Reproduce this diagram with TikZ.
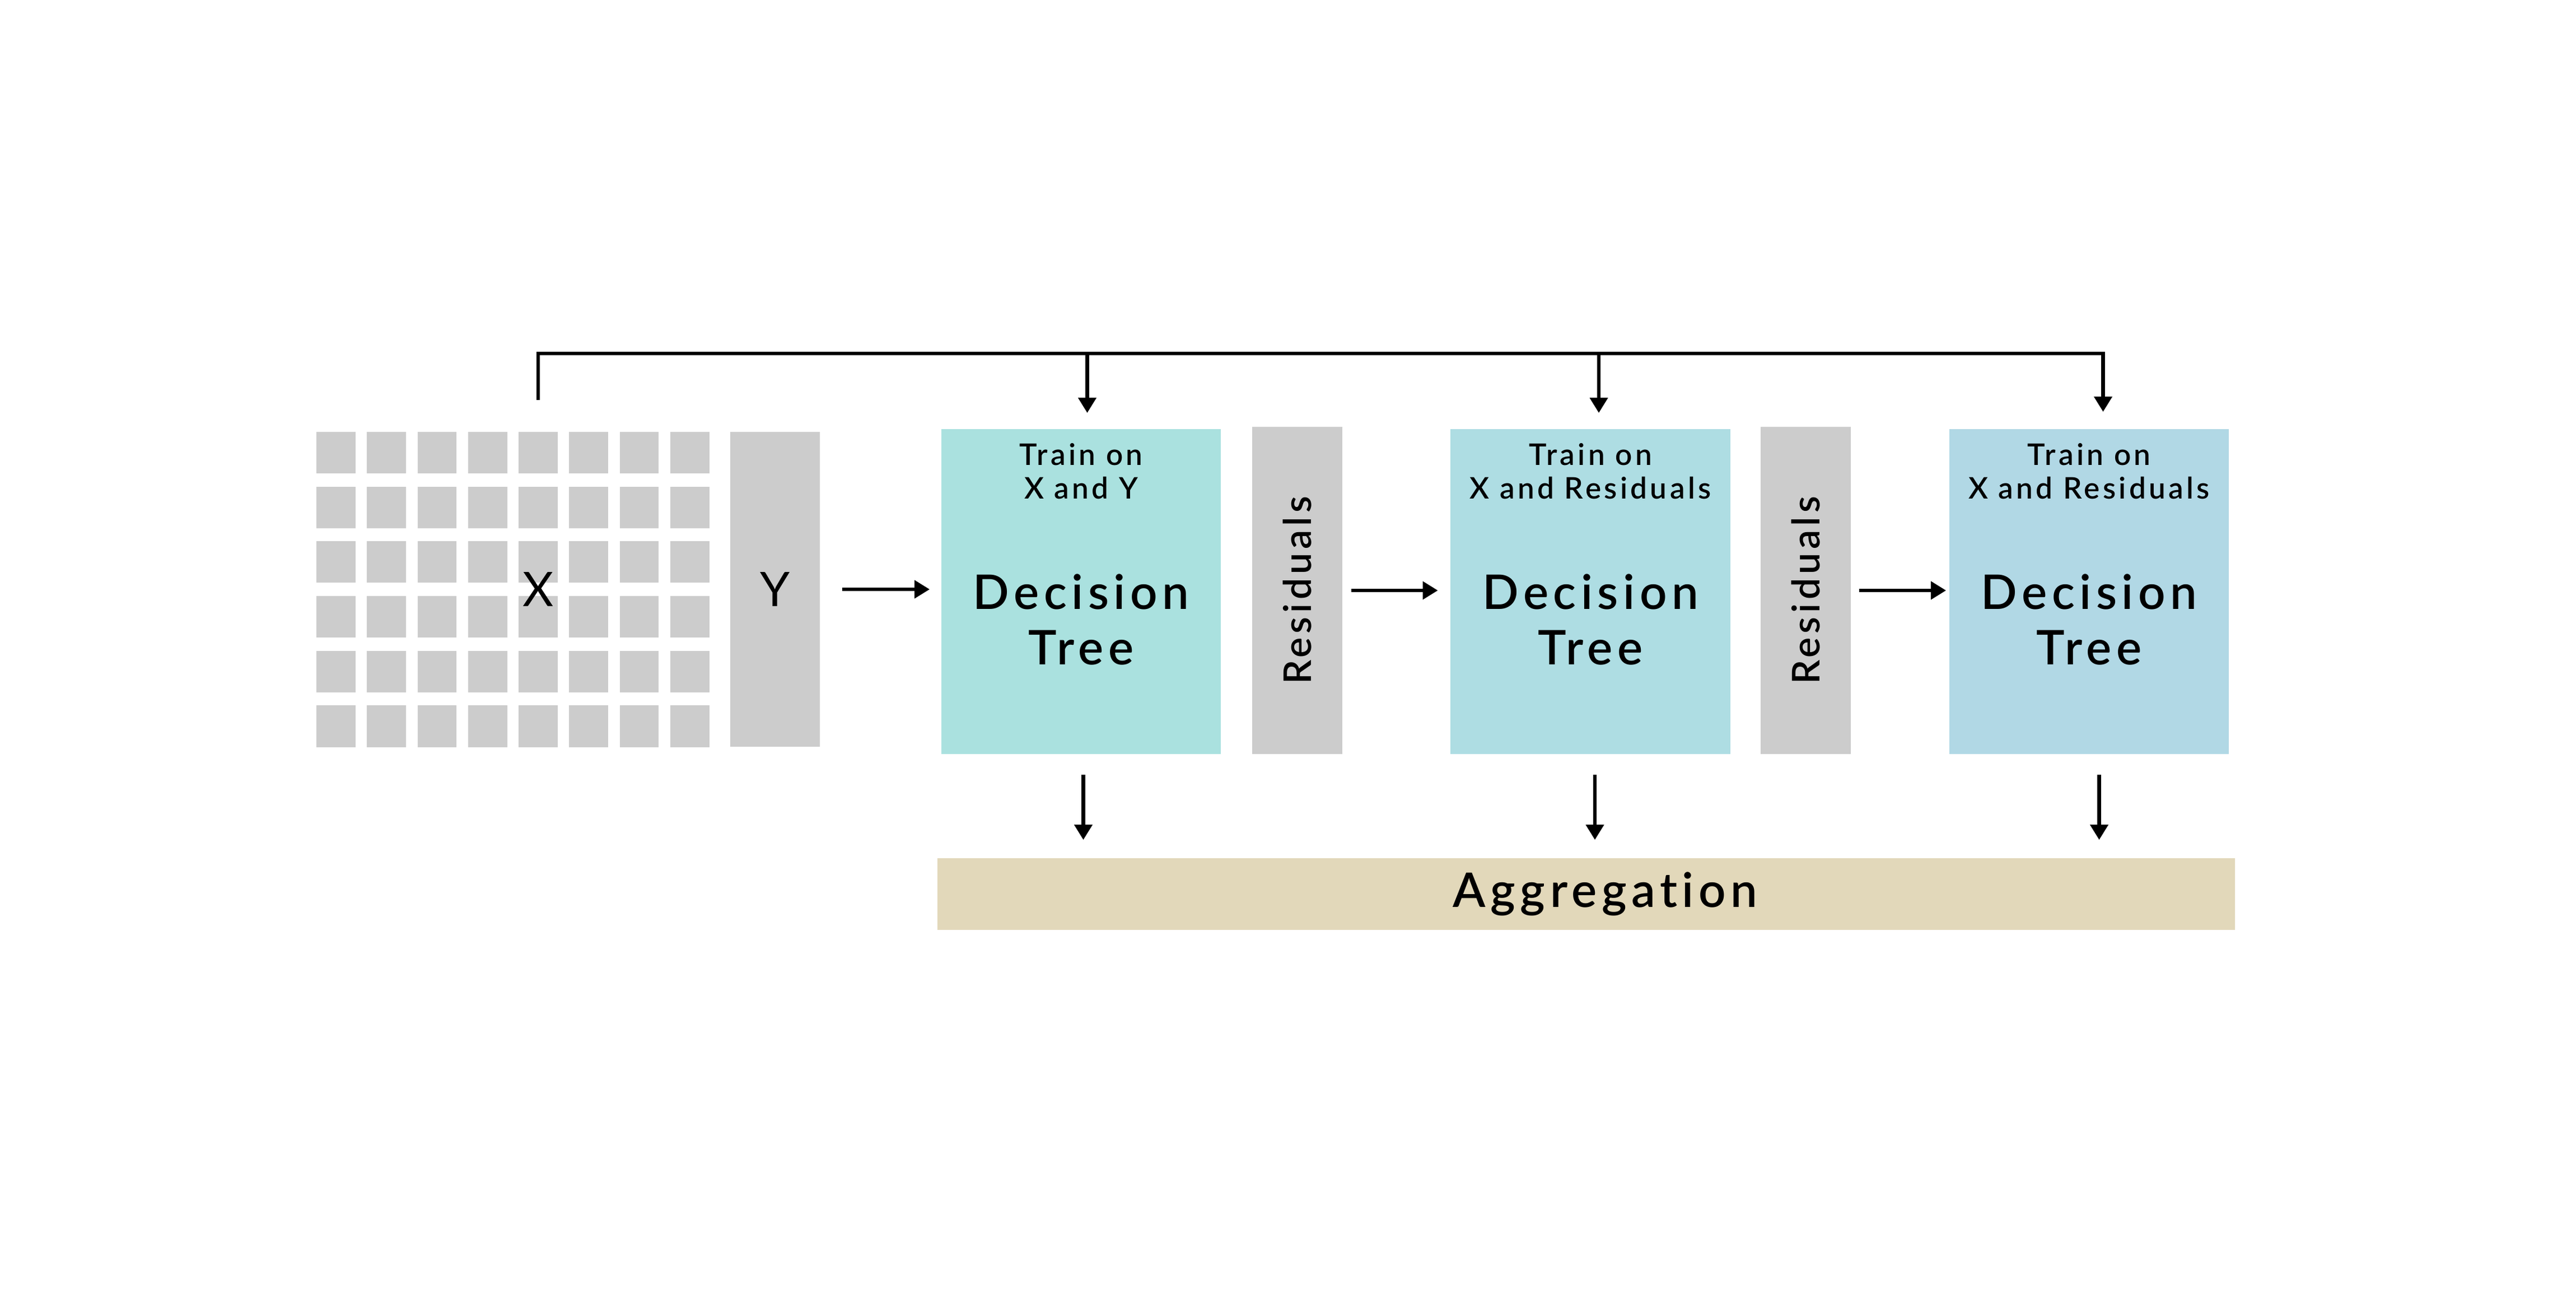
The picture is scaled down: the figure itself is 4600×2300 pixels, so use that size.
\documentclass[tikz,border=0pt]{standalone}
\usepackage{fontspec}
\setmainfont{Lato}
\IfFontExistsTF{Lato Semibold}{\newfontfamily\semi{Lato Semibold}}{\newfontfamily\semi{Lato}[FakeBold=1.5]}
\usepackage{xcolor}
\usetikzlibrary{positioning,arrows.meta,calc}
\definecolor{cellgray}{HTML}{CCCCCC}
\definecolor{treeA}{HTML}{AAE1DF}
\definecolor{treeB}{HTML}{AEDDE3}
\definecolor{treeC}{HTML}{B1D8E5}
\definecolor{aggtan}{HTML}{E2D8BA}
\newcommand{\bigtxt}{\semi\fontsize{24.2}{28.2}\selectfont\addfontfeature{LetterSpace=10,Ligatures=NoCommon}}
\newcommand{\smalltxt}{\semi\fontsize{15.1}{17}\selectfont\addfontfeature{LetterSpace=10,Ligatures=NoCommon}}
\newcommand{\restxt}{\semi\fontsize{19.4}{20}\selectfont\addfontfeature{LetterSpace=10,Ligatures=NoCommon}}

\begin{document}
\begin{tikzpicture}[x=0.01cm,y=-0.01cm,
  arr/.style={->,>={Triangle[length=0.27cm,width=0.31cm]},line width=1.9pt},
  cell/.style={fill=cellgray,minimum width=0.696cm,minimum height=0.74cm,inner sep=0pt},
  tree/.style={minimum width=4.99cm,minimum height=5.8cm,inner sep=0pt},
  resbox/.style={fill=cellgray,minimum width=1.61cm,minimum height=5.84cm,inner sep=0pt},
  toptxt/.style={align=center,font=\smalltxt,inner sep=0pt},
  dtxt/.style={align=center,font=\bigtxt,inner sep=0pt}]
\useasboundingbox (0,0) rectangle (4600,2300);

% X grid and Y column
\foreach \i in {0,...,7}
  \foreach \j in {0,...,5}
    \node[cell] (c-\i-\j) at ({599.8+90.3*\i},{808+97.7*\j}) {};
\node[fill=cellgray,minimum width=1.6cm,minimum height=5.62cm,inner sep=0pt] (ycol) at (1384,1052) {};
\node[font=\fontsize{24.2}{28.2}\selectfont] (xlab) at (c-4-0 |- ycol) {X};
\node[font=\fontsize{24.2}{28.2}\selectfont] (ylab) at (ycol) {Y};

% trees and residuals
\node[tree,fill=treeA] (tree1) at (1930.5,1056) {};
\node[resbox] (res1) at (2316.5,1054) {};
\node[tree,fill=treeB] (tree2) at (2840,1056) {};
\node[resbox] (res2) at (3224.5,1054) {};
\node[tree,fill=treeC] (tree3) at (3730.5,1056) {};
\node[rotate=90,font=\restxt] at (res1) {Residuals};
\node[rotate=90,font=\restxt] at (res2) {Residuals};

\node[toptxt] at ($(tree1.north)+(0,76)$) {Train on\\X and Y};
\node[toptxt] at ($(tree2.north)+(0,76)$) {Train on\\X and Residuals};
\node[toptxt] at ($(tree3.north)+(0,76)$) {Train on\\X and Residuals};
\foreach \t in {tree1,tree2,tree3}
  \node[dtxt] at ($(\t)+(0,50)$) {Decision\\Tree};

% aggregation bar
\node[fill=aggtan,minimum width=23.15cm,minimum height=1.28cm,inner sep=0pt] (agg) at (2832.5,1596) {};
\node[font=\bigtxt] at ($(agg)+(34,0)$) {Aggregation};

% arrows
\coordinate (xtap) at ($(c-4-0.north)+(0,-56)$);
\draw[arr] (xtap) |- ($(tree3.north)+(25,-134)$) -- ($(tree3.north)+(25,-30)$); %bus
\draw[arr] ($(tree1.north)+(11,-134)$) -- ($(tree1.north)+(11,-28)$);
\draw[arr] ($(tree2.north)+(15,-134)$) -- ($(tree2.north)+(15,-28)$);

\draw[arr,shorten <=0.39cm,shorten >=0.2cm] (ycol.east) -- (ycol.east -| tree1.west);
\draw[arr,shorten <=0.15cm,shorten >=0.22cm] (res1.east) -- (res1.east -| tree2.west);
\draw[arr,shorten <=0.14cm,shorten >=0.05cm] (res2.east) -- (res2.east -| tree3.west);

\draw[arr,shorten <=0.36cm,shorten >=0.32cm] ($(tree1.south)+(4,0)$) -- ($(tree1.south |- agg.north)+(4,0)$);
\draw[arr,shorten <=0.36cm,shorten >=0.32cm] ($(tree2.south)+(8,0)$) -- ($(tree2.south |- agg.north)+(8,0)$);
\draw[arr,shorten <=0.36cm,shorten >=0.32cm] ($(tree3.south)+(18,0)$) -- ($(tree3.south |- agg.north)+(18,0)$);
\end{tikzpicture}
\end{document}
